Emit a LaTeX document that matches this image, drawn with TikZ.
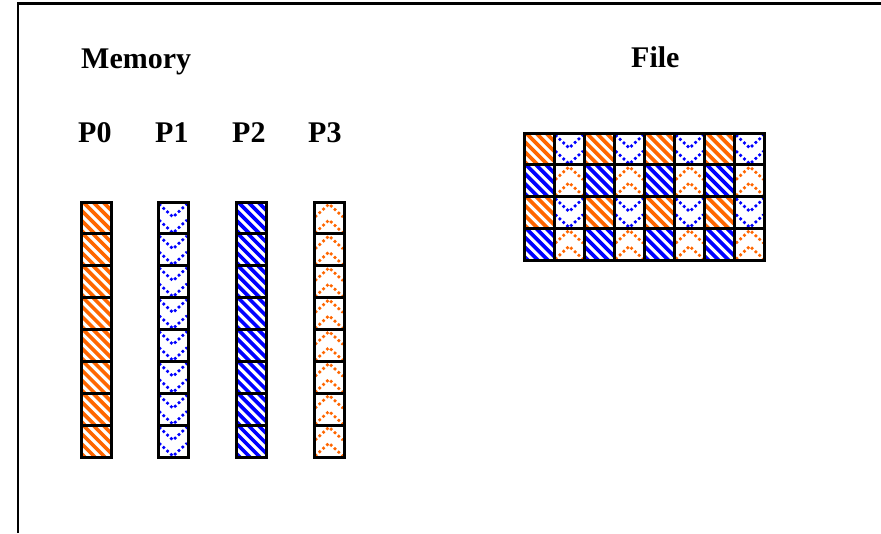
\documentclass[tikz,border=0pt]{standalone}
\usepackage{fontspec}
\setmainfont{Liberation Serif}
\definecolor{myor}{HTML}{FF6600}
\definecolor{mybl}{HTML}{0000FF}
\tikzset{
  lbl/.style={inner sep=0pt, anchor=base west, font=\fontsize{30}{30}\selectfont\bfseries},
  cellbord/.style={draw=black, line width=3pt},
  stripe/.style={line width=3.6pt},
  chev/.style={line width=2.6pt, dash pattern=on 2.6pt off 2.6pt}
}
% #1 x, #2 y, #3 height, #4 colour
\newcommand\cellStripe[4]{%
  \begin{scope}[shift={(#1,#2)}]
    \begin{scope}
      \clip (0,0) rectangle (30,#3);
      \foreach \k in {-40,-30,...,30} \draw[stripe,#4] (\k,-2) -- ++(40,40);
    \end{scope}
    \draw[cellbord] (0,0) rectangle (30,#3);
  \end{scope}}
\newcommand\cellV[4]{%
  \begin{scope}[shift={(#1,#2)}]
    \begin{scope}
      \clip (0,0) rectangle (30,#3);
      \foreach \y in {-16,0,16} \draw[chev,#4] (1,\y+2) -- (15,\y+15) -- (29,\y+2);
    \end{scope}
    \draw[cellbord] (0,0) rectangle (30,#3);
  \end{scope}}
\newcommand\cellA[4]{%
  \begin{scope}[shift={(#1,#2)}]
    \begin{scope}
      \clip (0,0) rectangle (30,#3);
      \foreach \y in {-16,0,16} \draw[chev,#4] (1,\y+15) -- (15,\y+2) -- (29,\y+15);
    \end{scope}
    \draw[cellbord] (0,0) rectangle (30,#3);
  \end{scope}}
\begin{document}
\begin{tikzpicture}[x=1pt,y=-1pt]
\useasboundingbox (0,0) rectangle (881,533);
\draw[line width=2.2pt] (18,533) -- (18,3.5) -- (881,3.5);
\node[lbl] (mem) at (81,68) {Memory};
\node[lbl] (file) at (631,67) {File};
\node[lbl] (p0) at (78,142) {P0};
\node[lbl] (p1) at (155,142) {P1};
\node[lbl] (p2) at (232,142) {P2};
\node[lbl] (p3) at (308,142) {P3};
% memory columns
\foreach \i in {0,...,7} {
  \pgfmathsetmacro\yy{202+\i*31.875}
  \cellStripe{81}{\yy}{31.875}{myor}
  \cellV{158}{\yy}{31.875}{mybl}
  \cellStripe{236}{\yy}{31.875}{mybl}
  \cellA{314}{\yy}{31.875}{myor}
}
% file grid
\foreach \c in {0,2,4,6} {
  \pgfmathsetmacro\xa{524+\c*30.125}
  \pgfmathsetmacro\xb{524+(\c+1)*30.125}
  \foreach \r in {0,2} {
    \pgfmathsetmacro\ya{133+\r*31.75}
    \pgfmathsetmacro\yb{133+(\r+1)*31.75}
    \cellStripe{\xa}{\ya}{31.75}{myor}
    \cellV{\xb}{\ya}{31.75}{mybl}
    \cellStripe{\xa}{\yb}{31.75}{mybl}
    \cellA{\xb}{\yb}{31.75}{myor}
  }
}
\end{tikzpicture}
\end{document}
